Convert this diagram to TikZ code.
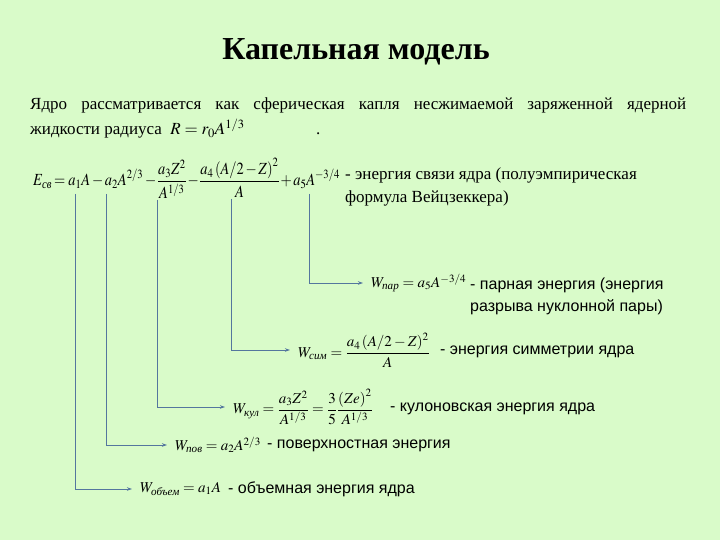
\documentclass[tikz,border=0pt]{standalone}
\usepackage{amsmath}
\usepackage{graphicx}
\usepackage{mathptmx}
\usepackage{fontspec}
\setmainfont{Liberation Serif}
\setsansfont{Liberation Sans}
\usetikzlibrary{arrows.meta}
\definecolor{bggreen}{RGB}{217,251,201}
\definecolor{linkblue}{RGB}{84,118,158}
\newcommand{\sbt}[1]{\text{\itshape #1}}
\newcommand{\mpiece}[1]{\scalebox{0.85}[1]{\medmuskip=2mu\thickmuskip=3mu\nulldelimiterspace=0pt$\displaystyle #1$}}
\tikzset{
  conn/.style={draw=linkblue, line width=0.9pt, -{Stealth[length=5pt,width=3.5pt]}},
  piece/.style={anchor=base west, inner sep=0pt, font=\fontsize{17}{20}\selectfont},
  eqn/.style={anchor=west, inner xsep=8pt, inner ysep=0pt, font=\fontsize{15}{18}\selectfont},
  desc/.style={anchor=west, inner sep=0pt, font=\sffamily\fontsize{16}{22}\selectfont, align=left},
  body/.style={anchor=base west, inner sep=0pt, font=\fontsize{17}{22}\selectfont}
}
\begin{document}
\begin{tikzpicture}[x=1pt,y=-1pt]
\fill[bggreen] (0,0) rectangle (720,540);
\useasboundingbox (0,0) rectangle (720,540);
\node[font=\bfseries\fontsize{32}{36}\selectfont] (title) at (356,52) {Капельная модель};
\node[body] (l1) at (30,110) {\hbox to 656pt{Ядро\hfill рассматривается\hfill как\hfill сферическая\hfill капля\hfill несжимаемой\hfill заряженной\hfill ядерной}};
\node[body] (l2) at (30,135) {жидкости радиуса \ $R=r_0A^{1/3}$};
\node[body] (dot) at (316,135) {.};
% main formula in pieces
\node[piece] (n0) at (33,186) {\mpiece{E_{\sbt{св}}={}}};
\node[piece] (n1) at (n0.base east) {\mpiece{a_1A}};
\node[piece] (n2) at (n1.base east) {\mpiece{{}-a_2A^{2/3}}};
\node[piece] (n3) at (n2.base east) {\mpiece{{}-\frac{a_3Z^2}{A^{1/3}}}};
\node[piece] (n4) at (n3.base east) {\mpiece{{}-\frac{a_4\left(A/2-Z\right)^2}{A}}};
\node[piece] (n5) at (n4.base east) {\mpiece{{}+a_5A^{-3/4}}};
\node[anchor=base west, inner sep=0pt, font=\fontsize{17}{23}\selectfont, align=left] (maind) at (345,203)
  {- энергия связи ядра (полуэмпирическая\\формула Вейцзеккера)};
\coordinate (s1) at ([xshift=7pt,yshift=-8pt]n1.base west);
\coordinate (s2) at ([xshift=16pt,yshift=-8pt]n2.base west);
\coordinate (s3) at ([xshift=-7pt,yshift=-1pt]n3.south);
\coordinate (s4) at ([xshift=-1pt,yshift=-1pt]n4.south);
\coordinate (s5) at ([xshift=31pt,yshift=-8pt]n5.base west);
\node[eqn] (wpar) at (363,283) {$W_{\sbt{пар}}=a_5A^{-3/4}$};
\node[eqn] (wsim) at (290,350) {$W_{\sbt{сим}}=\dfrac{a_4\left(A/2-Z\right)^2}{A}$};
\node[eqn] (wkul) at (225,407) {$W_{\sbt{кул}}=\dfrac{a_3Z^2}{A^{1/3}}=\dfrac{3}{5}\dfrac{\left(Ze\right)^2}{A^{1/3}}$};
\node[eqn] (wpov) at (167,445) {$W_{\sbt{пов}}=a_2A^{2/3}$};
\node[eqn] (wob) at (132,489) {$W_{\sbt{объем}}=a_1A$};
\node[desc] (dpar) at (470,296) {- парная энергия (энергия\\разрыва нуклонной пары)};
\node[desc] (dsim) at (440,352) {- энергия симметрии ядра};
\node[desc] (dkul) at (390,409) {- кулоновская энергия ядра};
\node[desc] (dpov) at (267,446) {- поверхностная энергия};
\node[desc] (dob) at (228,489) {- объемная энергия ядра};
\draw[conn] (s1) |- (wob.west);
\draw[conn] (s2) |- (wpov.west);
\draw[conn] (s3) |- (wkul.west);
\draw[conn] (s4) |- (wsim.west);
\draw[conn] (s5) |- (wpar.west);
\end{tikzpicture}
\end{document}
